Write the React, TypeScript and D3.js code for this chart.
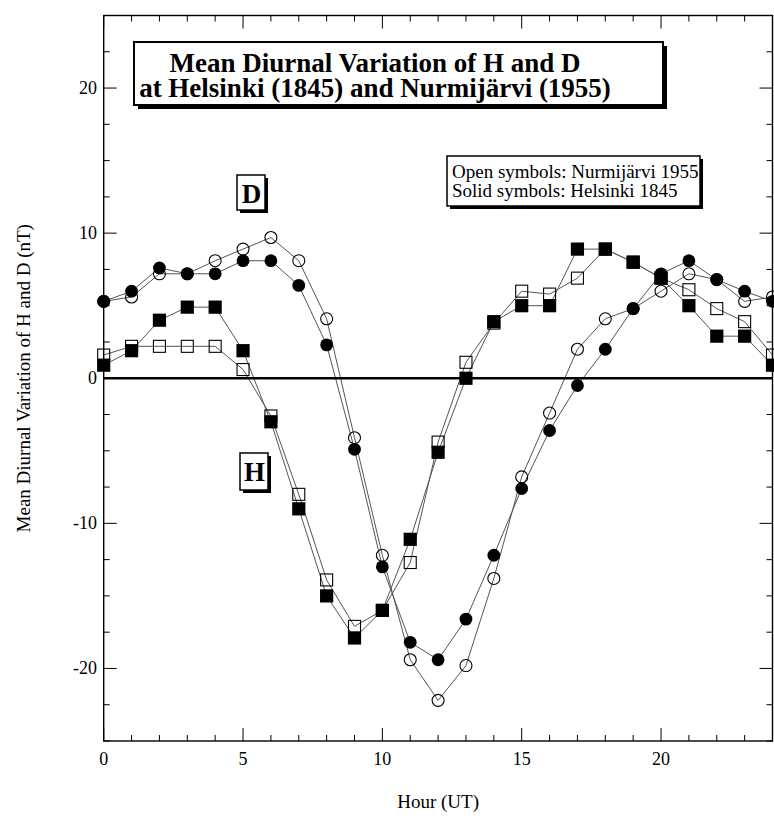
import React from 'react';
import * as d3 from 'd3';

// Hour of day (UT)
const hours = [0, 1, 2, 3, 4, 5, 6, 7, 8, 9, 10, 11, 12, 13, 14, 15, 16, 17, 18, 19, 20, 21, 22, 23, 24];

// D component (circles)
const dHelsinki1845 = [5.3, 6.0, 7.6, 7.2, 7.2, 8.1, 8.1, 6.4, 2.3, -4.9, -13.0, -18.2, -19.4, -16.6, -12.2, -7.6, -3.6, -0.5, 2.0, 4.8, 7.2, 8.1, 6.8, 6.0, 5.3];
const dNurmijarvi1955 = [5.3, 5.6, 7.2, 7.2, 8.1, 8.9, 9.7, 8.1, 4.1, -4.1, -12.2, -19.4, -22.2, -19.8, -13.8, -6.8, -2.4, 2.0, 4.1, 4.8, 6.0, 7.2, 6.8, 5.3, 5.6];

// H component (squares)
const hHelsinki1845 = [0.9, 1.9, 4.0, 4.9, 4.9, 1.9, -3.0, -9.0, -15.0, -17.9, -16.0, -11.1, -5.1, 0.0, 3.9, 5.0, 5.0, 8.9, 8.9, 8.0, 6.9, 5.0, 2.9, 2.9, 0.9];
const hNurmijarvi1955 = [1.6, 2.2, 2.2, 2.2, 2.2, 0.6, -2.6, -8.0, -13.9, -17.1, -16.0, -12.7, -4.4, 1.1, 3.8, 6.0, 5.8, 6.9, 8.9, 8.0, 6.9, 6.1, 4.8, 3.9, 1.6];

const xTickLabels = [0, 5, 10, 15, 20];
const yTickLabels = [-20, -10, 0, 10, 20];
const xMinorTicks = d3.range(0, 25, 1);
const yMinorTicks = d3.range(-25, 25.01, 2.5);

const titleLines = ['Mean Diurnal Variation of H and D', 'at Helsinki (1845) and Nurmijärvi (1955)'];
const legendLines = ['Open symbols: Nurmijärvi 1955', 'Solid symbols: Helsinki 1845'];

const W = 774;
const H = 816;
const PL = 103.7, PR = 772.5, PT = 15.5, PB = 741;
const FONT = '"Liberation Serif", "Times New Roman", serif';

function Box({ x, y, w, h, sh, sw }: { x: number; y: number; w: number; h: number; sh: number; sw: number }) {
  return (
    <g>
      <rect x={x + sh} y={y + sh} width={w} height={h} fill="#000" />
      <rect x={x} y={y} width={w} height={h} fill="#fff" stroke="#000" strokeWidth={sw} />
    </g>
  );
}

export default function App() {
  const x = d3.scaleLinear().domain([0, 24]).range([PL, PR]);
  const y = d3.scaleLinear().domain([-25, 25]).range([PB, PT]);
  const line = d3
    .line<number>()
    .x((_, i) => x(hours[i]))
    .y((d) => y(d));

  const series = [dNurmijarvi1955, hNurmijarvi1955, dHelsinki1845, hHelsinki1845];

  const majorLen = 13;
  const minorLen = 6;

  return (
    <svg
      width={W}
      height={H}
      style={{ position: 'absolute', left: 0, top: 0, background: '#fff' }}
      fontFamily={FONT}
    >
      <rect x={0} y={0} width={W} height={H} fill="#fff" />

      {/* data lines */}
      {series.map((s, i) => (
        <path key={'l' + i} d={line(s) || ''} fill="none" stroke="#555" strokeWidth={1} />
      ))}

      {/* zero line */}
      <line x1={PL} x2={PR} y1={y(0)} y2={y(0)} stroke="#000" strokeWidth={2.4} />

      {/* open symbols: Nurmijärvi 1955 */}
      {dNurmijarvi1955.map((v, i) => (
        <circle key={'oc' + i} cx={x(hours[i])} cy={y(v)} r={6} fill="none" stroke="#000" strokeWidth={1.1} />
      ))}
      {hNurmijarvi1955.map((v, i) => (
        <rect key={'os' + i} x={x(hours[i]) - 6} y={y(v) - 6} width={12} height={12} fill="none" stroke="#000" strokeWidth={1.1} />
      ))}

      {/* solid symbols: Helsinki 1845 */}
      {dHelsinki1845.map((v, i) => (
        <circle key={'sc' + i} cx={x(hours[i])} cy={y(v)} r={6.4} fill="#000" />
      ))}
      {hHelsinki1845.map((v, i) => (
        <rect key={'ss' + i} x={x(hours[i]) - 6.6} y={y(v) - 6.6} width={13.2} height={13.2} fill="#000" />
      ))}

      {/* frame */}
      <rect x={PL} y={PT} width={PR - PL} height={PB - PT} fill="none" stroke="#000" strokeWidth={1.4} />

      {/* x ticks (bottom & top) */}
      {xMinorTicks.map((t) => {
        const len = t % 5 === 0 ? majorLen : minorLen;
        return (
          <g key={'xt' + t}>
            <line x1={x(t)} x2={x(t)} y1={PB} y2={PB - len} stroke="#000" strokeWidth={1} />
            <line x1={x(t)} x2={x(t)} y1={PT} y2={PT + len} stroke="#000" strokeWidth={1} />
          </g>
        );
      })}
      {/* y ticks (left & right) */}
      {yMinorTicks.map((t) => {
        const len = Math.abs(t % 10) < 1e-9 ? majorLen : minorLen;
        return (
          <g key={'yt' + t}>
            <line x1={PL} x2={PL + len} y1={y(t)} y2={y(t)} stroke="#000" strokeWidth={1} />
            <line x1={PR} x2={PR - len} y1={y(t)} y2={y(t)} stroke="#000" strokeWidth={1} />
          </g>
        );
      })}

      {/* tick labels */}
      {xTickLabels.map((t) => (
        <text key={'xl' + t} x={x(t)} y={765} textAnchor="middle" fontSize={18} fill="#000">
          {t}
        </text>
      ))}
      {yTickLabels.map((t) => (
        <text key={'yl' + t} x={97} y={y(t) + 6} textAnchor="end" fontSize={18} fill="#000">
          {t}
        </text>
      ))}

      {/* axis titles */}
      <text x={(PL + PR) / 2} y={808} textAnchor="middle" fontSize={19} fill="#000">
        Hour (UT)
      </text>
      <text transform={`translate(29.5, ${y(0)}) rotate(-90)`} textAnchor="middle" fontSize={19} fill="#000">
        Mean Diurnal Variation of H and D (nT)
      </text>

      {/* title box */}
      <Box x={134} y={42} w={529} h={63} sh={4} sw={2} />
      <text x={375} y={71.5} textAnchor="middle" fontSize={27} fontWeight="bold" fill="#000">
        {titleLines[0]}
      </text>
      <text x={375} y={96.5} textAnchor="middle" fontSize={27} fontWeight="bold" fill="#000">
        {titleLines[1]}
      </text>

      {/* legend box */}
      <Box x={447} y={156} w={253} h={50} sh={3} sw={1.5} />
      <text x={452} y={178} fontSize={19} fill="#000">
        {legendLines[0]}
      </text>
      <text x={452} y={197} fontSize={19} fill="#000">
        {legendLines[1]}
      </text>

      {/* D label */}
      <Box x={237} y={175} w={28} h={35} sh={3} sw={1.5} />
      <text x={251.5} y={202.5} textAnchor="middle" fontSize={27} fontWeight="bold" fill="#000">
        D
      </text>

      {/* H label */}
      <Box x={240} y={453} w={28} h={37} sh={3} sw={1.5} />
      <text x={254.5} y={480.5} textAnchor="middle" fontSize={27} fontWeight="bold" fill="#000">
        H
      </text>
    </svg>
  );
}
